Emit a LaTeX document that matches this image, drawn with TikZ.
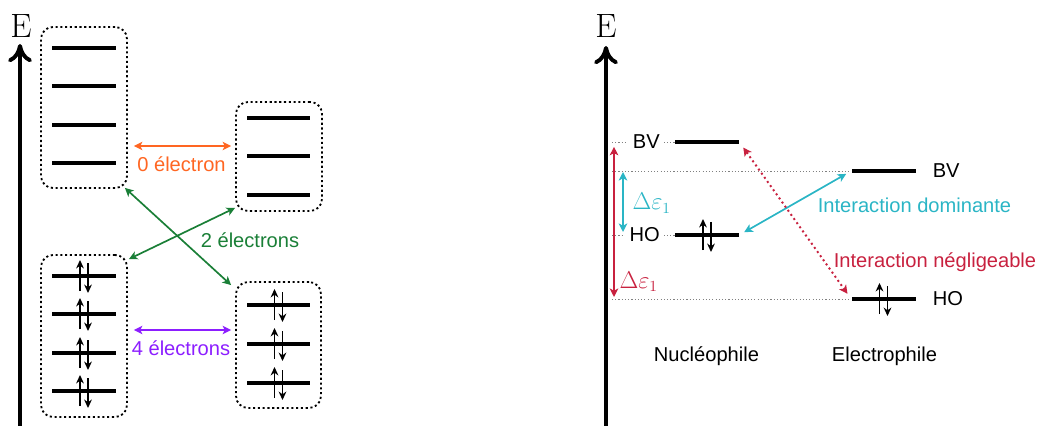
\documentclass[tikz,border=0pt]{standalone}
\usepackage{fontspec}
\setsansfont{Liberation Sans}
\usepackage{tikz}
\usetikzlibrary{arrows.meta, positioning}

\definecolor{orangeE}{RGB}{255,102,34}
\definecolor{violetE}{RGB}{140,30,255}
\definecolor{vertE}{RGB}{26,127,55}
\definecolor{cyanE}{RGB}{42,181,197}
\definecolor{rougeE}{RGB}{200,33,63}

\newcommand{\paire}[2]{%
  \draw[spin] (#1,#2) ++(-4,15) -- ++(0,-31);
  \draw[spin] (#1,#2) ++(4,-13) -- ++(0,30);}

\begin{document}
\begin{tikzpicture}[x=0.025cm, y=-0.025cm,
    axe/.style={line width=2.8pt, -{To[length=13pt,width=17pt]}},
    box/.style={draw, rounded corners=0.3cm, line width=1.3pt, dash pattern=on 1.5pt off 1.9pt, minimum width=2.15cm},
    mo/.style={line width=2.8pt},
    orb/.style={fill=black, inner sep=0pt, minimum width=1.6cm, minimum height=0.1cm},
    spin/.style={line width=1.1pt, -{Stealth[length=6pt,width=5.5pt]}},
    lien/.style={line width=1.2pt, {Stealth[length=6pt,width=6pt,inset=1.5pt]}-{Stealth[length=6pt,width=6pt,inset=1.5pt]}},
    guide/.style={gray, line width=0.6pt, dash pattern=on 0.8pt off 1.5pt},
    txt/.style={font=\sffamily\fontsize{14.3}{17}\selectfont},
    energie/.style={font=\fontsize{24}{24}\selectfont}
]
\useasboundingbox (0,0) rectangle (1039,426);

% schema de gauche
\coordinate (bas1) at (20,426);
\coordinate (haut1) at (20,44);
\draw[axe] (bas1) -- (haut1);
\node[energie] (E1) at (21,26) {E};

\node[box, minimum height=4.025cm] (vide1) at (84,107.5) {};
\node[box, minimum height=2.725cm] (vide2) at (279,156.5) {};
\node[box, minimum height=4.05cm] (plein1) at (84,336) {};
\node[box, minimum height=3.15cm, minimum width=2.125cm] (plein2) at (278.5,345) {};

\foreach \y in {48,86,125,163} \draw[mo] (52,\y) -- ++(64,0);
\foreach \y in {118,156,195} \draw[mo] (247,\y) -- ++(63,0);
\foreach \y in {276,314,353,391} {\draw[mo] (52,\y) -- ++(64,0); \paire{84}{\y}}
\foreach \y in {305,344,383} {\draw[mo] (247,\y) -- ++(63,0); \paire{278.5}{\y}}

\draw[lien, orangeE, shorten <=0.15cm, shorten >=0.1cm] (vide1.east |- 0,146) -- (vide2.west |- 0,146);
\draw[lien, violetE, shorten <=0.15cm, shorten >=0.1cm] (plein1.east |- 0,330) -- (plein2.west |- 0,330);
\draw[lien, vertE] ([shift={(-3,-1)}]vide1.south east) -- ([shift={(-4,4)}]plein2.north west);
\draw[lien, vertE] ([shift={(1,5)}]plein1.north east) -- ([shift={(0,-4)}]vide2.south west);

\node[txt, orangeE, anchor=base] (l0) at (181.5,172) {0 électron};
\node[txt, vertE, anchor=base] (l2) at (250,247) {2 électrons};
\node[txt, violetE, anchor=base] (l4) at (181,355) {4 électrons};

% schema de droite
\coordinate (bas2) at (606,426);
\coordinate (haut2) at (606,46);
\draw[axe] (bas2) -- (haut2);
\node[energie] (E2) at (606,26.5) {E};

\node[orb] (nuBV) at (707,142) {};
\node[orb] (nuHO) at (707,235) {};
\node[orb] (elBV) at (883.5,171) {};
\node[orb] (elHO) at (883.5,299) {};

\draw[guide] (612,0 |- nuBV) -- (nuBV.west);
\draw[guide] (612,0 |- nuHO) -- (nuHO.west);
\draw[guide] (612,0 |- elBV) -- (elBV.west);
\draw[guide] (612,0 |- elHO) -- (elHO.west);

\node[txt, fill=white, left=0.25cm of nuBV] (bv1) {BV};
\node[txt, fill=white, left=0.25cm of nuHO] (ho1) {HO};
\node[txt, right=0.3cm of elBV] (bv2) {BV};
\node[txt, right=0.3cm of elHO] (ho2) {HO};

\paire{707}{235}
\paire{883.5}{299}

\draw[lien, rougeE, shorten <=0.12cm, shorten >=0.05cm] (614,0 |- nuBV) -- node[pos=0.89, right, font=\fontsize{16}{18}\selectfont] (de2) {$\Delta\varepsilon_1$} (614,0 |- elHO);
\draw[lien, cyanE, shorten <=0.025cm, shorten >=0.075cm] (623,0 |- elBV) -- node[right, xshift=0.1cm, font=\fontsize{16}{18}\selectfont] (de1) {$\Delta\varepsilon_1$} (623,0 |- nuHO);

\draw[lien, cyanE, shorten <=0.14cm, shorten >=0.145cm] (nuHO.east) -- (elBV.west);
\draw[lien, rougeE, line width=1.4pt, dash pattern=on 1.4pt off 2.2pt, shorten <=0.17cm, shorten >=0.16cm] (nuBV.east) -- (elHO.west);

\node[txt, cyanE, anchor=base] (dom) at (914.5,213) {Interaction dominante};
\node[txt, rougeE, anchor=base] (neg) at (935,267) {Interaction négligeable};
\node[txt, anchor=base] (nuc) at (706.5,361) {Nucléophile};
\node[txt, anchor=base] (elec) at (884.5,361) {Electrophile};
\end{tikzpicture}
\end{document}
